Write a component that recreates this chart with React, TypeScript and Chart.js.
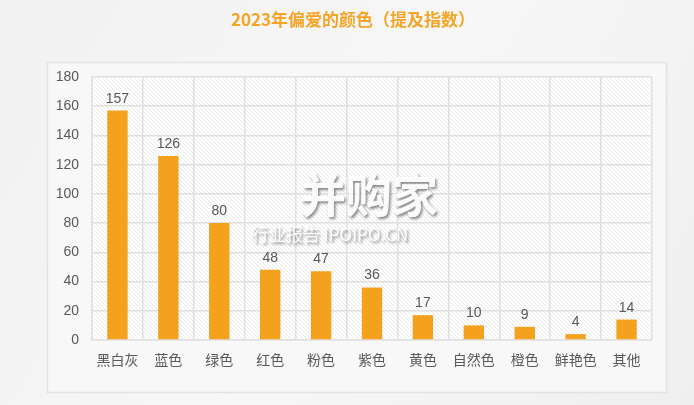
import React, { useEffect, useRef } from "react";
import { Chart, registerables } from "chart.js";

Chart.register(...registerables);

const titleText = "2023年偏爱的颜色（提及指数）";
const categories = ["黑白灰", "蓝色", "绿色", "红色", "粉色", "紫色", "黄色", "自然色", "橙色", "鲜艳色", "其他"];
const values = [157, 126, 80, 48, 47, 36, 17, 10, 9, 4, 14];
const yTicks = [0, 20, 40, 60, 80, 100, 120, 140, 160, 180];
const watermarkMain = "并购家";
const watermarkSub = "行业报告 IPOIPO.CN";

const FONT = "'Liberation Sans', 'Noto Sans CJK SC', sans-serif";
const ORANGE = "#F4A11D";
const TEXT = "#595959";

function makeHatch(ctx: CanvasRenderingContext2D) {
  const c = document.createElement("canvas");
  c.width = 4;
  c.height = 4;
  const g = c.getContext("2d")!;
  g.fillStyle = "#ffffff";
  g.fillRect(0, 0, 4, 4);
  g.strokeStyle = "#e4e4e4";
  g.lineWidth = 0.8;
  g.beginPath();
  g.moveTo(-1, -1);
  g.lineTo(5, 5);
  g.moveTo(-1, 3);
  g.lineTo(1, 5);
  g.moveTo(3, -1);
  g.lineTo(5, 1);
  g.stroke();
  return ctx.createPattern(c, "repeat");
}

const bgPlugin = {
  id: "bg",
  beforeDraw(chart: any) {
    const ctx = chart.ctx as CanvasRenderingContext2D;
    const { width, height, chartArea } = chart;
    ctx.save();
    const grad = ctx.createLinearGradient(0, 0, width, height);
    grad.addColorStop(0, "#f1f1f1");
    grad.addColorStop(0.5, "#f7f7f7");
    grad.addColorStop(1, "#efefef");
    ctx.fillStyle = grad;
    ctx.fillRect(0, 0, width, height);
    // outer box
    ctx.fillStyle = "#f8f8f8";
    ctx.fillRect(47.5, 62.5, 619, 330);
    ctx.strokeStyle = "#e2e2e2";
    ctx.lineWidth = 1.5;
    ctx.strokeRect(47.5, 62.5, 619, 330);
    // hatch plot
    const pat = makeHatch(ctx);
    if (pat) {
      ctx.fillStyle = pat;
      ctx.fillRect(chartArea.left, chartArea.top, chartArea.right - chartArea.left, chartArea.bottom - chartArea.top);
    }
    // title
    ctx.fillStyle = "#F5A425";
    ctx.font = `bold 17px 'Noto Sans CJK SC', sans-serif`;
    ctx.textAlign = "center";
    ctx.textBaseline = "middle";
    ctx.fillText(titleText, 353, 20);
    ctx.restore();
  },
  afterDatasetsDraw(chart: any) {
    const ctx = chart.ctx as CanvasRenderingContext2D;
    const meta = chart.getDatasetMeta(0);
    ctx.save();
    ctx.fillStyle = TEXT;
    ctx.font = `14px ${FONT}`;
    ctx.textAlign = "center";
    ctx.textBaseline = "alphabetic";
    meta.data.forEach((bar: any, i: number) => {
      ctx.fillText(String(values[i]), bar.x, bar.y - 8);
    });
    ctx.restore();
  },
  afterDraw(chart: any) {
    const ctx = chart.ctx as CanvasRenderingContext2D;
    ctx.save();
    ctx.textAlign = "left";
    ctx.textBaseline = "alphabetic";
    ctx.shadowColor = "rgba(0,0,0,0.5)";
    ctx.shadowBlur = 3;
    ctx.shadowOffsetX = 1.5;
    ctx.shadowOffsetY = 1.5;
    ctx.fillStyle = "rgba(255,255,255,0.95)";
    ctx.font = `bold 46px 'Noto Sans CJK SC', sans-serif`;
    ctx.fillText(watermarkMain, 300, 212);
    ctx.font = `17px 'Noto Sans CJK SC', sans-serif`;
    ctx.fillText(watermarkSub, 252, 241);
    ctx.restore();
  },
};

export default function App() {
  const ref = useRef<HTMLCanvasElement>(null);
  useEffect(() => {
    const ctx = ref.current!.getContext("2d")!;
    const chart = new Chart(ctx, {
      type: "bar",
      data: {
        labels: categories,
        datasets: [
          {
            data: values,
            backgroundColor: ORANGE,
            barPercentage: 0.4,
            categoryPercentage: 1,
          },
        ],
      },
      options: {
        animation: false,
        responsive: false,
        layout: { padding: { left: 47, right: 42, top: 77, bottom: 13 } },
        plugins: { legend: { display: false }, tooltip: { enabled: false }, title: { display: false } },
        scales: {
          x: {
            grid: { color: "#e0e0e0", lineWidth: 1.5, drawTicks: false, offset: true },
            border: { color: "#e0e0e0", width: 1.5 },
            ticks: { color: TEXT, font: { size: 14, family: FONT }, padding: 13, maxRotation: 0 },
            afterFit(scale: any) {
              scale.height = 52;
            },
          },
          y: {
            min: 0,
            max: 180,
            afterBuildTicks(scale: any) {
              scale.ticks = yTicks.map((v) => ({ value: v }));
            },
            grid: { color: "#e0e0e0", lineWidth: 1.5, drawTicks: false },
            border: { color: "#e0e0e0", width: 1.5 },
            ticks: { color: TEXT, font: { size: 14, family: FONT }, padding: 13 },
            afterFit(scale: any) {
              scale.width = 45;
            },
          },
        },
      },
      plugins: [bgPlugin],
    });
    return () => chart.destroy();
  }, []);
  return (
    <div style={{ position: "fixed", left: 0, top: 0, width: 694, height: 405 }}>
      <canvas ref={ref} width={694} height={405} style={{ display: "block" }} />
    </div>
  );
}
